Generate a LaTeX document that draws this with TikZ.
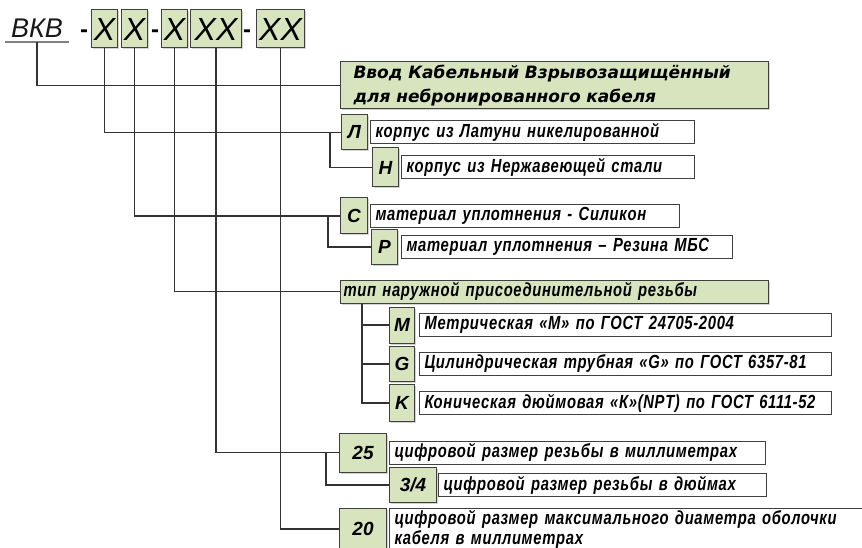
\documentclass[tikz,border=0pt]{standalone}
\usepackage{fontspec}
\setmainfont{Liberation Sans}
\newfontfamily\titulofont{DejaVu Sans}
\newfontfamily\descfont[FakeStretch=0.78,LetterSpace=3.5]{Liberation Sans}
\usetikzlibrary{positioning,shadows}

\definecolor{verde}{RGB}{215,228,189}
\definecolor{borde}{RGB}{64,64,64}

\tikzset{
  sombra/.style={drop shadow={shadow xshift=1.5pt,shadow yshift=-1.5pt,opacity=.35}},
  casilla/.style={draw=borde, fill=verde, line width=1pt, inner sep=0pt,
    minimum width=26, minimum height=38, sombra,
    font=\fontsize{32}{32}\selectfont\itshape},
  guion/.style={inner sep=0pt, font=\fontsize{24}{24}\selectfont\bfseries},
  titulo/.style={draw=borde, fill=verde, line width=1pt, inner xsep=13pt,
    inner ysep=0pt, minimum width=428, minimum height=47, text width=402,
    align=left, sombra,
    font=\titulofont\fontsize{17}{24}\selectfont\bfseries\itshape},
  letra/.style={draw=borde, fill=verde, line width=1pt, inner sep=0pt,
    minimum width=26, minimum height=36, sombra,
    font=\fontsize{19}{19}\selectfont\bfseries\itshape},
  numero/.style={letra, minimum width=47},
  texto/.style={draw=borde, fill=white, line width=1pt, inner xsep=5pt,
    inner ysep=1pt, minimum height=23, align=left,
    font=\descfont\fontsize{19}{20}\selectfont\bfseries\itshape},
  enlace/.style={draw=black!80, line width=1.1pt}
}

\begin{document}
\begin{tikzpicture}[x=1pt,y=-1pt]
        \clip (0,0) rectangle (862,548);

        % Paso 1: Escribe la designación y sus casillas
        \node[anchor=base, inner xsep=6pt, inner ysep=4pt, text=black!90,
          font=\fontsize{27}{27}\selectfont\itshape] (vkb) at (37,38) {ВКВ};
        \draw[black!50, line width=1.5pt] (vkb.south west) -- (vkb.south east);
        \node[guion, anchor=base] (g1) at (84,38) {-};
        \node[casilla, anchor=west] (X1) at (91,29) {X};
        \node[casilla, anchor=west] (X2) at (121,29) {X};
        \node[guion, anchor=base] (g2) at (155,38) {-};
        \node[casilla, anchor=west] (X3) at (161,29) {X};
        \node[casilla, anchor=west, minimum width=51] (X4) at (190,29) {XX};
        \node[guion, anchor=base] (g3) at (247,38) {-};
        \node[casilla, anchor=west, minimum width=48] (X5) at (256,29) {XX};

        % Paso 2: Cuadro del nombre del producto
        \node[titulo, anchor=west] (T) at (340,85.5)
          {Ввод Кабельный Взрывозащищённый\\для небронированного кабеля};

        % Paso 3: Material del cuerpo
        \node[letra, anchor=west, minimum height=35] (L) at (341,132.5) {Л};
        \node[texto, right=2pt of L, text width=314] (tL)
          {корпус из Латуни никелированной};
        \node[letra, anchor=west, minimum height=39] (N) at (372,167.5) {Н};
        \node[texto, right=2pt of N, text width=283] (tN)
          {корпус из Нержавеющей стали};

        % Paso 4: Material de la junta
        \node[letra, anchor=west, minimum width=27] (C) at (340,216) {С};
        \node[texto, right=2pt of C, text width=299] (tC)
          {материал уплотнения - Силикон};
        \node[letra, anchor=west, minimum height=34] (R) at (371,247) {Р};
        \node[texto, right=3pt of R, text width=321] (tR)
          {материал уплотнения – Резина МБС};

        % Paso 5: Tipo de rosca exterior
        \node[draw=borde, fill=verde, line width=1pt, inner xsep=3pt,
          inner ysep=0pt, minimum width=428, minimum height=23,
          text width=422, align=left, sombra,
          font=\descfont\fontsize{19}{20}\selectfont\bfseries\itshape,
          anchor=west] (Tip) at (340,291.5)
          {тип наружной присоединительной резьбы};
        \node[letra, anchor=west, minimum width=25] (M) at (389,325) {M};
        \node[texto, right=4pt of M, text width=402] (tM)
          {Метрическая «М» по ГОСТ 24705-2004};
        \node[letra, anchor=west, minimum width=25, minimum height=35] (G) at (389,364) {G};
        \node[texto, right=4pt of G, text width=402] (tG)
          {Цилиндрическая трубная «G» по ГОСТ 6357-81};
        \node[letra, anchor=west, minimum width=25, minimum height=37] (K) at (389,403) {K};
        \node[texto, right=4pt of K, text width=402] (tK)
          {Коническая дюймовая «К»(NPT) по ГОСТ 6111-52};

        % Paso 6: Tamaño de la rosca
        \node[numero, anchor=west, minimum height=39] (D25) at (339,452.5) {25};
        \node[texto, right=2pt of D25, text width=366] (t25)
          {цифровой размер резьбы в миллиметрах};
        \node[numero, anchor=west, minimum height=35] (D34) at (389,485) {3/4};
        \node[texto, right=1pt of D34, text width=318] (t34)
          {цифровой размер резьбы в дюймах};

        % Paso 7: Diámetro del cable
        \node[numero, anchor=west, minimum height=42] (D20) at (339,529) {20};
        \node[texto, right=2pt of D20, text width=463] (t20)
          {цифровой размер максимального диаметра оболочки\\кабеля в миллиметрах};

        % Paso 8: Une las casillas con sus cuadros
        \draw[enlace] (vkb.south) |- (T.west);
        \draw[enlace] (X1.south) |- (L.west);
        \draw[enlace] ([xshift=-11pt]L.west) |- (N.west);
        \draw[enlace] (X2.south) |- (C.west);
        \draw[enlace] ([xshift=-12pt]C.west) |- (R.west);
        \draw[enlace] (X3.south) |- (Tip.west);
        \draw[enlace] ([xshift=22pt]Tip.south west) |- (M.west);
        \draw[enlace] ([xshift=22pt]Tip.south west) |- (G.west);
        \draw[enlace] ([xshift=22pt]Tip.south west) |- (K.west);
        \draw[enlace] (X4.south) |- (D25.west);
        \draw[enlace] ([xshift=-13pt]D25.west) |- (D34.west);
        \draw[enlace] (X5.south) |- (D20.west);
\end{tikzpicture}
\end{document}
